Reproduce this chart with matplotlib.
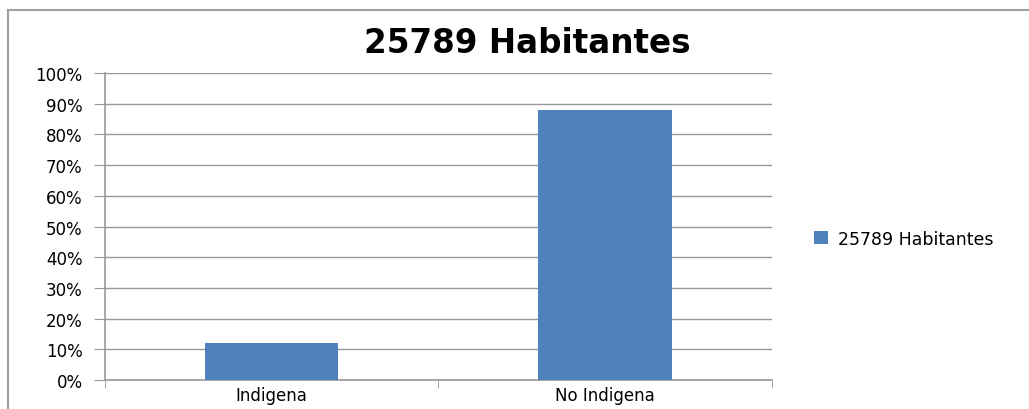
import numpy as np
import matplotlib.pyplot as plt
from matplotlib.lines import Line2D
from matplotlib.patches import Patch

# datos
categorias = ["Indigena", "No Indigena"]
porcentajes = [12, 88]
serie = "25789 Habitantes"
ticks_y = [0, 10, 20, 30, 40, 50, 60, 70, 80, 90, 100]

color_barra = "#4F81BD"
gris = "#989898"

plt.rcParams["font.family"] = ["DejaVu Sans"]

fig = plt.figure(figsize=(10.29, 4.10), dpi=100)
ax = fig.add_axes([0.102, 0.0707, 0.648, 0.7488])

x = np.arange(len(categorias))
ax.bar(x, porcentajes, width=0.4, color=color_barra, zorder=3, label=serie)

ax.set_xlim(-0.5, len(categorias) - 0.5)
ax.set_ylim(0, 100)
ax.set_yticks(ticks_y)
ax.set_yticklabels([f"{v}%" for v in ticks_y], fontsize=12)
ax.yaxis.grid(True, color=gris, linewidth=1, zorder=0)
ax.tick_params(axis="y", length=8, color=gris, pad=8)

# categorias entre marcas
ax.set_xticks(x)
ax.set_xticklabels(categorias, fontsize=12)
ax.tick_params(axis="x", length=0, pad=4)
ax.set_xticks(np.arange(-0.5, len(categorias)), minor=True)
ax.tick_params(axis="x", which="minor", length=6, color=gris)

for s in ["top", "right"]:
    ax.spines[s].set_visible(False)
for s in ["left", "bottom"]:
    ax.spines[s].set_color(gris)
    ax.spines[s].set_linewidth(1.2)

fig.text(0.512, 0.895, serie, ha="center", va="center", fontsize=23.5, fontweight="bold")

handles = [Patch(facecolor=color_barra, edgecolor="none")]
fig.legend(handles, [serie], loc="center left", bbox_to_anchor=(0.776, 0.415),
           frameon=False, fontsize=12.5, handlelength=0.8, handleheight=0.8,
           handletextpad=0.6)

# borde del grafico
fig.add_artist(Line2D([0.008, 1.0], [1 - 11 / 410, 1 - 11 / 410],
                      transform=fig.transFigure, color="#A0A0A0", linewidth=1.5))
fig.add_artist(Line2D([0.008, 0.008], [0.0, 1 - 11 / 410],
                      transform=fig.transFigure, color="#A0A0A0", linewidth=1.5))

fig.savefig("out.png", dpi=100)
